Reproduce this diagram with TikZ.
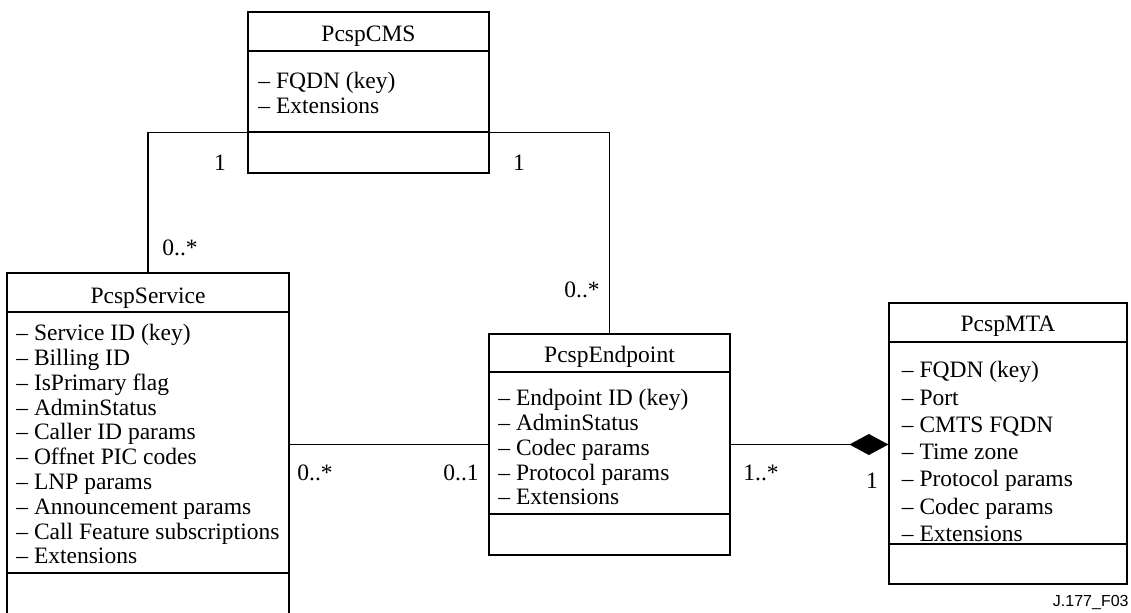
\documentclass[tikz,border=0pt]{standalone}
\usepackage{fontspec}
\setmainfont{Liberation Serif}
\newfontfamily\figfont{Liberation Sans}
\usetikzlibrary{arrows.meta}
\begin{document}
\begin{tikzpicture}[x=0.5pt,y=-0.5pt,font=\fontsize{11.75}{12.4}\selectfont,
  cls/.style={draw,line width=0.6pt,inner sep=0pt},
  ttl/.style={anchor=base,inner sep=0pt},
  att/.style={anchor=north west,align=left,inner sep=0pt},
  sep/.style={line width=1pt},
  assoc/.style={line width=0.9pt},
  mult/.style={anchor=base,inner sep=0pt}]
  \useasboundingbox (0,0) rectangle (1131,612);
  \node[cls,minimum width=120.5pt,minimum height=80.5pt] (cms) at (368.5,92.5){};
  \node[cls,minimum width=141pt,minimum height=170.5pt] (srv) at (148,443.5){};
  \node[cls,minimum width=120.5pt,minimum height=110.5pt] (ep) at (609.5,444.5){};
  \node[cls,minimum width=119pt,minimum height=140.5pt] (mta) at (1008,443.5){};
  \draw[sep] ([yshift=-20pt]cms.north west) -- ([yshift=-20pt]cms.north east);
  \draw[sep] ([yshift=-60.5pt]cms.north west) -- ([yshift=-60.5pt]cms.north east);
  \draw[sep] ([yshift=-20pt]srv.north west) -- ([yshift=-20pt]srv.north east);
  \draw[sep] ([yshift=-150.5pt]srv.north west) -- ([yshift=-150.5pt]srv.north east);
  \draw[sep] ([yshift=-19.5pt]ep.north west) -- ([yshift=-19.5pt]ep.north east);
  \draw[sep] ([yshift=-90.5pt]ep.north west) -- ([yshift=-90.5pt]ep.north east);
  \draw[sep] ([yshift=-20pt]mta.north west) -- ([yshift=-20pt]mta.north east);
  \draw[sep] ([yshift=-121pt]mta.north west) -- ([yshift=-121pt]mta.north east);
  \node[ttl] (cms-t) at (368.5,41){PcspCMS};
  \node[ttl] (srv-t) at (148,303){PcspService};
  \node[ttl] (ep-t) at (609.5,362){PcspEndpoint};
  \node[ttl] (mta-t) at (1008,331){PcspMTA};
  \node[att] (cms-a) at (258,72){\textendash{} FQDN (key)\\\textendash{} Extensions};
  \node[att] (srv-a) at (16,324){\textendash{} Service ID (key)\\\textendash{} Billing ID\\\textendash{} IsPrimary flag\\\textendash{} AdminStatus\\\textendash{} Caller ID params\\\textendash{} Offnet PIC codes\\\textendash{} LNP params\\\textendash{} Announcement params\\\textendash{} Call Feature subscriptions\\\textendash{} Extensions};
  \node[att] (ep-a) at (498,389){\textendash{} Endpoint ID (key)\\\textendash{} AdminStatus\\\textendash{} Codec params\\\textendash{} Protocol params\\\textendash{} Extensions};
  \node[att,font=\fontsize{11.75}{13.65}\selectfont] (mta-a) at (901.5,361){\textendash{} FQDN (key)\\\textendash{} Port\\\textendash{} CMTS FQDN\\\textendash{} Time zone\\\textendash{} Protocol params\\\textendash{} Codec params\\\textendash{} Extensions};
  \draw[assoc] ([yshift=-60.5pt]cms.north west) -| (srv.north);
  \draw[assoc] ([yshift=-60.5pt]cms.north east) -| (ep.north);
  \draw[assoc] (srv.east |- ep.west) -- (ep.west);
  \draw[assoc,-{Diamond[length=19.5pt,width=10.5pt]}] (ep.east) -- (mta.west |- ep.east);
  \node[mult] (m1) at (220,170){1};
  \node[mult] (m2) at (519,170){1};
  \node[mult] (m3) at (180,255){0..*};
  \node[mult] (m4) at (582,297){0..*};
  \node[mult] (m5) at (315,480){0..*};
  \node[mult] (m6) at (461,480){0..1};
  \node[mult] (m7) at (761,480){1..*};
  \node[mult] (m8) at (872,488){1};
  \node[anchor=base east,inner sep=0pt,font=\figfont\fontsize{8}{9.6}\selectfont] (fig) at (1129,606){J.177\_F03};
\end{tikzpicture}
\end{document}
